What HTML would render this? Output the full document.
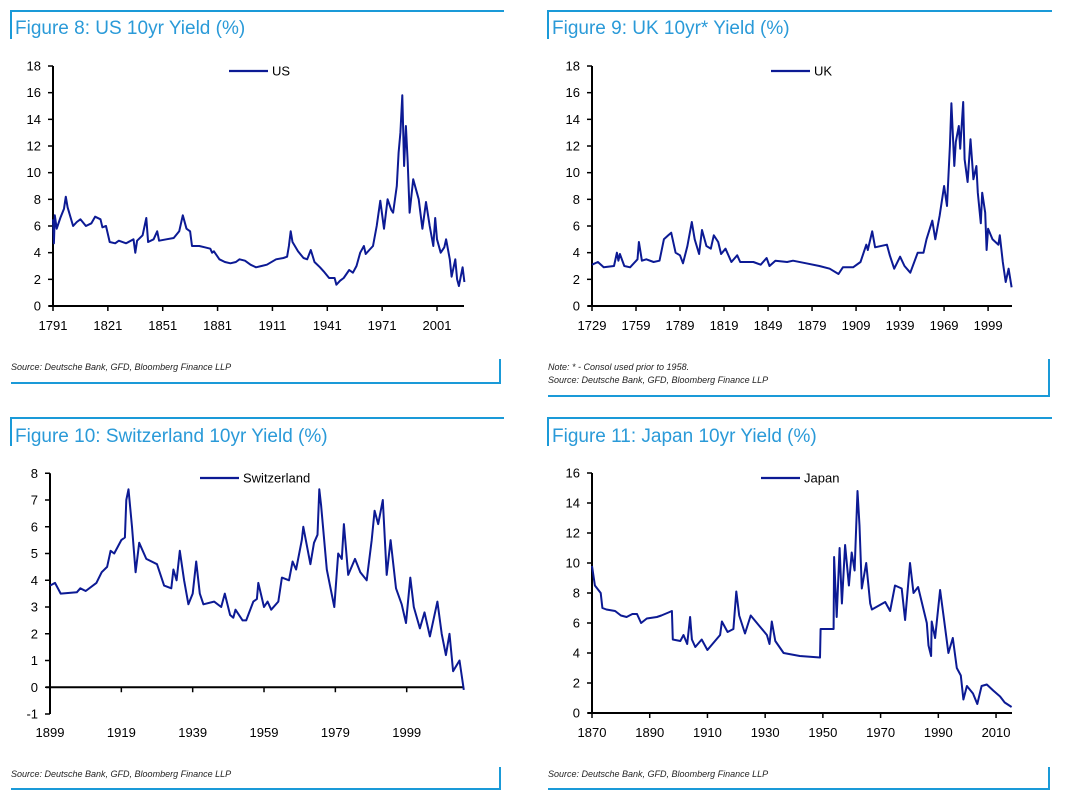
<!DOCTYPE html>
<html><head><meta charset="utf-8"><style>
html,body{margin:0;padding:0;background:#fff;}
svg{display:block;font-family:"Liberation Sans",sans-serif;}
</style></head><body>
<svg id="chart" width="1067" height="798" viewBox="0 0 1067 798">
<g stroke="#1a9ad8" stroke-width="2" fill="none">
<path d="M11 39V11H504"/>
<path d="M11 383H500V359"/>
<path d="M548 39V11H1052"/>
<path d="M548 396H1049V359"/>
<path d="M11 446V418H504"/>
<path d="M11 789H500V767"/>
<path d="M548 446V418H1052"/>
<path d="M548 789H1049V767"/>
</g>
<g fill="#2a9ad8" font-size="19">
<text x="15" y="34">Figure 8: US 10yr Yield (%)</text>
<text x="552" y="34">Figure 9: UK 10yr* Yield (%)</text>
<text x="15" y="442">Figure 10: Switzerland 10yr Yield (%)</text>
<text x="552" y="442">Figure 11: Japan 10yr Yield (%)</text>
</g>
<g fill="#222" font-size="9" font-style="italic">
<text x="11" y="370">Source: Deutsche Bank, GFD, Bloomberg Finance LLP</text>
<text x="548" y="370">Note: * - Consol used prior to 1958.</text>
<text x="548" y="383">Source: Deutsche Bank, GFD, Bloomberg Finance LLP</text>
<text x="11" y="777">Source: Deutsche Bank, GFD, Bloomberg Finance LLP</text>
<text x="548" y="777">Source: Deutsche Bank, GFD, Bloomberg Finance LLP</text>
</g>
</svg>
<script>
const usYears=[1791,1791.5,1792,1793,1795,1797,1798,1799,1802,1804,1806,1809,1812,1814,1817,1818,1820,1822,1825,1827,1831,1835,1836,1837,1840,1842,1843,1846,1848,1849,1853,1857,1860,1862,1864,1866,1867,1871,1874,1877,1878,1879,1882,1885,1888,1891,1893,1896,1899,1902,1905,1908,1913,1917,1919,1920,1921,1922,1925,1928,1930,1932,1934,1937,1939,1942,1945,1946,1948,1950,1953,1955,1957,1959,1961,1962,1964,1966,1968,1970,1972,1974,1976,1977,1979,1980,1981,1982,1983,1984,1985,1986,1988,1990,1991,1993,1995,1997,1999,2000,2001,2003,2005,2006,2008,2009,2011,2012,2013,2015,2016];
const usValues=[6.5,4.7,6.8,5.8,6.6,7.3,8.2,7.4,6.0,6.3,6.5,6.0,6.2,6.7,6.5,5.9,6.0,4.8,4.7,4.9,4.7,5.0,4.0,4.9,5.3,6.6,4.8,5.0,5.6,4.9,5.0,5.1,5.6,6.8,5.8,5.6,4.5,4.5,4.4,4.3,4.0,4.1,3.5,3.3,3.2,3.3,3.5,3.4,3.1,2.9,3.0,3.1,3.5,3.6,3.7,4.5,5.6,4.8,4.1,3.6,3.5,4.2,3.3,2.9,2.6,2.1,2.1,1.6,1.9,2.1,2.7,2.5,3.0,4.0,4.5,3.9,4.2,4.5,6.0,7.9,5.8,8.0,7.2,7.0,9.0,11.5,13.0,15.8,10.5,13.5,10.8,7.0,9.5,8.5,8.0,5.8,7.8,6.0,4.5,6.6,5.0,4.0,4.4,5.0,3.5,2.2,3.5,2.0,1.5,2.9,1.8];
const ukYears=[1729,1733,1737,1744,1746,1747,1748,1751,1755,1760,1761,1763,1766,1771,1775,1778,1781,1783,1786,1789,1791,1794,1797,1799,1802,1804,1807,1810,1812,1815,1817,1820,1824,1828,1830,1839,1844,1848,1850,1854,1862,1866,1875,1884,1891,1897,1900,1907,1912,1916,1917,1920,1922,1930,1932,1935,1939,1942,1946,1951,1955,1957,1961,1963,1966,1969,1971,1973,1974,1976,1977,1979,1980,1982,1983,1985,1987,1989,1991,1992,1994,1995,1997,1998,1999,2002,2006,2007,2009,2011,2013,2015];
const ukValues=[3.1,3.3,2.9,3.0,4.0,3.4,3.9,3.0,2.9,3.5,4.8,3.4,3.5,3.3,3.4,5.0,5.3,5.5,4.0,3.8,3.2,4.5,6.3,5.0,3.9,5.7,4.5,4.3,5.3,4.8,3.9,4.3,3.3,3.8,3.3,3.3,3.1,3.6,3.0,3.4,3.3,3.4,3.2,3.0,2.8,2.4,2.9,2.9,3.3,4.6,4.2,5.6,4.4,4.6,3.8,2.8,3.7,3.0,2.5,4.0,4.0,5.0,6.4,5.0,6.8,9.0,7.5,12.0,15.2,10.5,12.3,13.5,11.8,15.3,11.0,9.3,12.5,9.5,10.5,8.5,6.2,8.5,7.0,4.2,5.8,5.0,4.6,5.3,3.3,1.8,2.8,1.4];
const chYears=[1899,1900.4,1902,1906.5,1907.5,1909,1912,1913.5,1915,1916,1917,1919,1920,1920.4,1921,1922,1923,1924,1926,1929,1931,1933,1933.6,1934.5,1935.4,1936.6,1937.8,1939,1940,1941,1942,1945,1947,1948,1949.5,1950.4,1951,1953,1954,1956,1957,1957.4,1959,1960,1961,1963,1964,1966,1967,1968,1969.6,1970,1972,1973,1974,1974.5,1975,1976.6,1977.5,1978.7,1979.8,1980.8,1981.4,1982.6,1984.5,1986,1987.8,1989.2,1990,1991,1992.3,1993.4,1994.5,1996,1997.6,1998.8,2000,2001,2002.7,2004,2005.5,2007.6,2008.8,2010,2011,2012,2013.8,2015];
const chValues=[3.8,3.9,3.5,3.55,3.7,3.6,3.9,4.3,4.5,5.1,5.0,5.5,5.6,7.0,7.4,6.0,4.3,5.4,4.8,4.6,3.8,3.7,4.4,4.0,5.1,4.0,3.1,3.5,4.7,3.5,3.1,3.2,3.0,3.5,2.7,2.6,2.9,2.5,2.5,3.2,3.3,3.9,3.0,3.2,2.9,3.2,4.1,4.0,4.7,4.4,5.5,6.0,4.6,5.4,5.7,7.4,6.8,4.4,3.8,3.0,5.0,4.8,6.1,4.2,4.8,4.3,4.0,5.5,6.6,6.1,7.0,4.2,5.5,3.7,3.1,2.4,4.1,3.0,2.2,2.8,1.9,3.2,2.0,1.2,2.0,0.6,1.0,-0.1];
const jpYears=[1870,1871,1873,1873.6,1875,1878,1880,1882,1884,1885.6,1887,1889,1892.5,1894,1896.5,1897.7,1898,1900.6,1901.7,1903,1904,1904.6,1905.8,1908,1910,1914.4,1915,1917,1919,1920,1921,1923,1925,1928,1930.6,1931.5,1932.3,1933.5,1936.4,1942,1949,1949.2,1953.7,1953.9,1954.8,1955.8,1956.6,1957.7,1959,1960,1961,1962,1962.7,1963.5,1965,1966.4,1967,1971.6,1973.3,1975,1977.3,1978.5,1980.2,1981.4,1983,1986,1986.6,1987.5,1987.7,1988.9,1990.6,1991.8,1993.5,1995,1996.4,1997.8,1998.7,1999.9,2002,2003.5,2005,2006.8,2009,2011.4,2013,2015.4];
const jpValues=[9.8,8.5,8.0,7.0,6.9,6.8,6.5,6.4,6.6,6.6,6.0,6.3,6.4,6.5,6.7,6.8,4.9,4.8,5.2,4.6,6.4,4.9,4.4,4.9,4.2,5.2,6.1,5.4,5.6,8.1,6.5,5.3,6.5,5.8,5.2,4.6,6.1,4.8,4.0,3.8,3.7,5.6,5.6,10.4,6.4,11.0,7.3,11.2,8.5,10.7,9.5,14.8,12.5,8.3,10.0,7.3,6.9,7.4,6.8,8.5,8.3,6.2,10.0,8.0,8.4,6.0,4.5,3.8,6.1,5.0,8.2,6.5,4.0,5.0,3.0,2.5,0.9,1.8,1.3,0.6,1.8,1.9,1.5,1.1,0.7,0.4];
const usXTicks=[1791,1821,1851,1881,1911,1941,1971,2001];
const ukXTicks=[1729,1759,1789,1819,1849,1879,1909,1939,1969,1999];
const chXTicks=[1899,1919,1939,1959,1979,1999];
const jpXTicks=[1870,1890,1910,1930,1950,1970,1990,2010];
const usYTicks=[0,2,4,6,8,10,12,14,16,18];
const ukYTicks=[0,2,4,6,8,10,12,14,16,18];
const chYTicks=[-1,0,1,2,3,4,5,6,7,8];
const jpYTicks=[0,2,4,6,8,10,12,14,16];

const NS='http://www.w3.org/2000/svg';
const svg=document.getElementById('chart');
function mk(tag,attrs,parent){const e=document.createElementNS(NS,tag);for(const k in attrs)e.setAttribute(k,attrs[k]);parent.appendChild(e);return e;}

function draw(c){
  const g=mk('g',{},svg);
  
  
  const xs=v=>c.x0+(v-c.xmin)*c.kx;
  const ys=v=>c.yb-(v-c.ymin)*c.ky;
  const yTop=ys(c.yt[c.yt.length-1]), yBot=ys(c.yt[0]), xAxisY=ys(0);
  const ya=mk('line',{x1:c.x0,y1:yTop,x2:c.x0,y2:yBot,stroke:'#000','stroke-width':2},g);
  
  
  const xa=mk('line',{x1:c.x0-4,y1:xAxisY,x2:c.xend,y2:xAxisY,stroke:'#000','stroke-width':2},g);
  
  
  c.yt.forEach(v=>{
    mk('line',{x1:c.x0-5,y1:ys(v),x2:c.x0,y2:ys(v),stroke:'#000','stroke-width':1.5},g);
    const t=mk('text',{x:c.x0-12,y:ys(v)+4.5,'text-anchor':'end','font-size':13,fill:'#000'},g);
    t.textContent=v;
    
    
  });
  c.xt.forEach(v=>{
    mk('line',{x1:xs(v),y1:xAxisY,x2:xs(v),y2:xAxisY+5,stroke:'#000','stroke-width':1.5},g);
    const t=mk('text',{x:xs(v),y:c.labY,'text-anchor':'middle','font-size':13,fill:'#000'},g);
    t.textContent=v;
    
    
  });
  let d='';
  c.years.forEach((yr,i)=>{d+=(i?'L':'M')+xs(yr).toFixed(1)+' '+ys(c.vals[i]).toFixed(1);});
  const p=mk('path',{d:d,fill:'none',stroke:'#0c1a94','stroke-width':2,'stroke-linejoin':'round'},g);
  
  
  const ll=mk('line',{x1:c.lx,y1:c.ly,x2:c.lx+39,y2:c.ly,stroke:'#0c1a94','stroke-width':2.2},g);
  
  
  const lt=mk('text',{x:c.lx+43,y:c.ly+4.5,'font-size':13,fill:'#000'},g);
  lt.textContent=c.label;
  
  
}
draw({id:'us',label:'US',years:usYears,vals:usValues,xt:usXTicks,yt:usYTicks,x0:53,xmin:1791,kx:1.8286,xend:464,yb:306,ymin:0,ky:13.333,labY:330,lx:229,ly:71});
draw({id:'uk',label:'UK',years:ukYears,vals:ukValues,xt:ukXTicks,yt:ukYTicks,x0:592,xmin:1729,kx:1.467,xend:1012,yb:306,ymin:0,ky:13.333,labY:330,lx:771,ly:71});
draw({id:'ch',label:'Switzerland',years:chYears,vals:chValues,xt:chXTicks,yt:chYTicks,x0:50,xmin:1899,kx:3.567,xend:464,yb:714,ymin:-1,ky:26.75,labY:737,lx:200,ly:478});
draw({id:'jp',label:'Japan',years:jpYears,vals:jpValues,xt:jpXTicks,yt:jpYTicks,x0:592,xmin:1870,kx:2.886,xend:1012,yb:713,ymin:0,ky:15,labY:737,lx:761,ly:478});
</script>
</body></html>
